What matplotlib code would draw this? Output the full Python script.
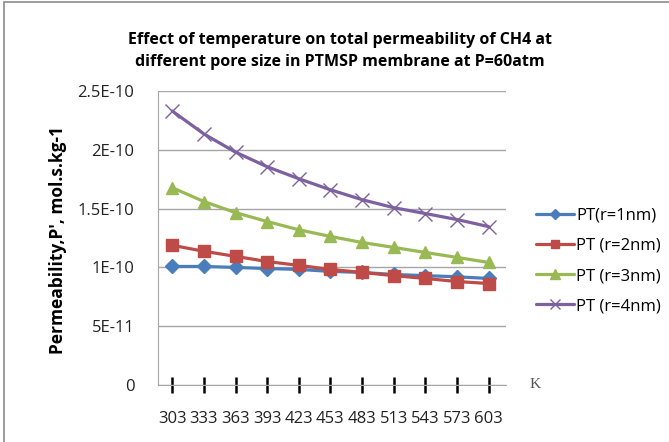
import matplotlib
matplotlib.use("Agg")
import matplotlib.pyplot as plt
from matplotlib.patches import Rectangle

temps = ["303", "333", "363", "393", "423", "453", "483", "513", "543", "573", "603"]
pt_r1 = [1.008e-10, 1.008e-10, 1.000e-10, 0.990e-10, 0.983e-10, 0.966e-10, 0.957e-10, 0.940e-10, 0.930e-10, 0.920e-10, 0.906e-10]
pt_r2 = [1.188e-10, 1.137e-10, 1.094e-10, 1.050e-10, 1.017e-10, 0.983e-10, 0.957e-10, 0.930e-10, 0.906e-10, 0.880e-10, 0.863e-10]
pt_r3 = [1.678e-10, 1.560e-10, 1.466e-10, 1.390e-10, 1.320e-10, 1.263e-10, 1.212e-10, 1.170e-10, 1.127e-10, 1.085e-10, 1.042e-10]
pt_r4 = [2.330e-10, 2.135e-10, 1.980e-10, 1.856e-10, 1.754e-10, 1.660e-10, 1.576e-10, 1.508e-10, 1.458e-10, 1.407e-10, 1.347e-10]
series_labels = ["PT(r=1nm)", "PT (r=2nm)", "PT (r=3nm)", "PT (r=4nm)"]
y_ticks = [0, 5e-11, 1e-10, 1.5e-10, 2e-10, 2.5e-10]
y_tick_labels = ["0", "5E-11", "1E-10", "1.5E-10", "2E-10", "2.5E-10"]

plt.rcParams['font.family'] = ['Open Sans', 'DejaVu Sans']

W, H = 669, 442
fig = plt.figure(figsize=(W / 100, H / 100), dpi=100)
fig.patch.set_facecolor("white")
fig.patches.append(Rectangle((4 / W, -0.1), 1.2, 1 - 2 / H + 0.1, transform=fig.transFigure,
                             fill=False, edgecolor="#8c8c8c", linewidth=1.2))

ax = fig.add_axes([158 / W, 1 - 385 / H, (506 - 158) / W, (385 - 91) / H])
x = list(range(len(temps)))

styles = [
    (pt_r1, "#4a7ebb", "D", 7),
    (pt_r2, "#be4b48", "s", 8.5),
    (pt_r3, "#98b954", "^", 9),
    (pt_r4, "#7d60a0", "x", 10),
]
for (vals, col, mk, ms), lab in zip(styles, series_labels):
    ax.plot(x, vals, color=col, marker=mk, markersize=ms, linewidth=2.3,
            markeredgewidth=1.0, label=lab,
            markerfacecolor=col, markeredgecolor=col, solid_capstyle="round")

ax.set_ylim(0, 2.5e-10)
ax.set_xlim(-0.45, 10.55)
ax.set_yticks(y_ticks)
ax.set_yticklabels(y_tick_labels, fontsize=12, color="#222222")
ax.set_xticks(x)
ax.set_xticklabels(temps, fontsize=12, color="#222222")
ax.tick_params(axis="x", direction="inout", length=11, width=1.8, color="black", pad=13)
ax.tick_params(axis="y", length=0, pad=17)
ax.yaxis.grid(True, color="#a6a6a6", linewidth=1)
ax.set_axisbelow(True)
for side in ["top", "right"]:
    ax.spines[side].set_visible(False)
ax.spines["left"].set_color("#a6a6a6")
ax.spines["bottom"].set_color("#a6a6a6")

fig.text(58 / W, 1 - 240 / H, "Permeability,P', mol.s.kg-1", rotation=90, fontsize=12.5,
         fontweight="bold", ha="center", va="center")
fig.text(535 / W, 1 - 385 / H, "K", fontsize=11, family="Liberation Serif", color="#555555",
         ha="center", va="center")

fig.text(340 / W, 1 - 40 / H, "Effect of temperature on total permeability of CH4 at",
         fontsize=11.5, fontweight="bold", ha="center", va="center")
fig.text(340 / W, 1 - 62 / H, "different pore size in PTMSP membrane at P=60atm",
         fontsize=11.5, fontweight="bold", ha="center", va="center")

leg = fig.legend(loc="center left", bbox_to_anchor=(521 / W, 1 - 261 / H), frameon=False,
                 fontsize=12, handlelength=2.3, handletextpad=0.1, labelspacing=0.85,
                 markerscale=0.75)

fig.savefig("out.png", dpi=100)
